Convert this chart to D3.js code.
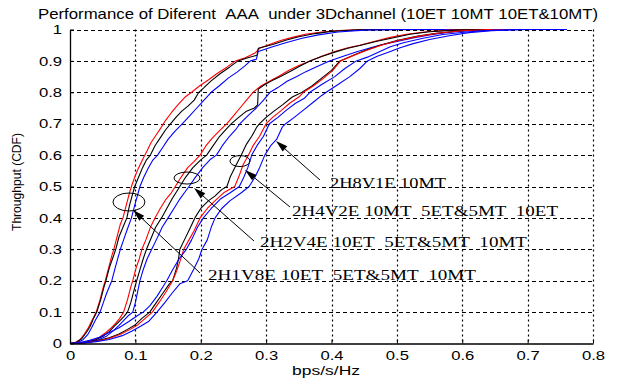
<!DOCTYPE html>
<html>
<head>
<meta charset="utf-8">
<script src="https://cdn.jsdelivr.net/npm/d3@7"></script>
<style>
  html, body { margin: 0; padding: 0; background: #fff; }
  svg { display: block; }
</style>
</head>
<body>
<svg id="chart" width="624" height="382"></svg>
<script>
// ---------- data ----------
const titleText = "Performance of Diferent  AAA  under 3Dchannel (10ET 10MT 10ET&10MT)";
const xLabelText = "bps/s/Hz";
const yLabelText = "Throughput (CDF)";

const xTicks = [0, 0.1, 0.2, 0.3, 0.4, 0.5, 0.6, 0.7, 0.8];
const xTickLabels = ["0", "0.1", "0.2", "0.3", "0.4", "0.5", "0.6", "0.7", "0.8"];
const yTicks = [0, 0.1, 0.2, 0.3, 0.4, 0.5, 0.6, 0.7, 0.8, 0.9, 1];
const yTickLabels = ["0", "0.1", "0.2", "0.3", "0.4", "0.5", "0.6", "0.7", "0.8", "0.9", "1"];

// 2H1V8E
const h1v8e_10ET = [[0,0],[0.008,0.003],[0.015,0.012],[0.022,0.03],[0.028,0.05],[0.034,0.075],[0.04,0.1],[0.046,0.14],[0.051,0.18],[0.054,0.2],[0.059,0.24],[0.064,0.28],[0.067,0.3],[0.072,0.34],[0.077,0.38],[0.081,0.4],[0.086,0.44],[0.091,0.48],[0.094,0.5],[0.099,0.53],[0.105,0.56],[0.112,0.59],[0.117,0.61],[0.124,0.64],[0.132,0.665],[0.14,0.69],[0.146,0.71],[0.155,0.735],[0.165,0.76],[0.176,0.785],[0.186,0.8],[0.198,0.82],[0.212,0.84],[0.225,0.86],[0.24,0.88],[0.253,0.9],[0.268,0.91],[0.283,0.925],[0.29,0.94],[0.305,0.952],[0.322,0.965],[0.34,0.975],[0.36,0.985],[0.385,0.992],[0.41,0.997],[0.45,1],[0.7,1]];
const h1v8e_5ET5MT = [[0,0],[0.01,0.004],[0.018,0.015],[0.025,0.035],[0.031,0.055],[0.036,0.08],[0.041,0.1],[0.047,0.14],[0.052,0.18],[0.055,0.2],[0.06,0.24],[0.065,0.27],[0.07,0.3],[0.075,0.34],[0.081,0.37],[0.087,0.4],[0.091,0.44],[0.095,0.47],[0.099,0.5],[0.105,0.53],[0.111,0.56],[0.117,0.585],[0.123,0.6],[0.13,0.63],[0.138,0.655],[0.146,0.68],[0.154,0.7],[0.162,0.72],[0.171,0.74],[0.18,0.755],[0.19,0.775],[0.197,0.8],[0.205,0.815],[0.215,0.835],[0.23,0.86],[0.244,0.88],[0.257,0.9],[0.272,0.91],[0.286,0.918],[0.288,0.94],[0.31,0.952],[0.33,0.966],[0.35,0.977],[0.375,0.987],[0.4,0.994],[0.44,0.999],[0.72,1]];
const h1v8e_10MT = [[0,0],[0.012,0.003],[0.02,0.012],[0.027,0.028],[0.033,0.05],[0.039,0.075],[0.046,0.1],[0.051,0.13],[0.056,0.16],[0.06,0.18],[0.064,0.2],[0.069,0.24],[0.073,0.27],[0.077,0.3],[0.082,0.33],[0.087,0.36],[0.094,0.4],[0.099,0.44],[0.103,0.47],[0.107,0.5],[0.113,0.53],[0.12,0.56],[0.127,0.585],[0.134,0.6],[0.142,0.625],[0.15,0.65],[0.16,0.675],[0.172,0.7],[0.183,0.725],[0.194,0.75],[0.205,0.775],[0.216,0.8],[0.228,0.82],[0.242,0.845],[0.256,0.865],[0.268,0.885],[0.276,0.9],[0.285,0.905],[0.288,0.93],[0.31,0.945],[0.33,0.958],[0.355,0.972],[0.38,0.983],[0.41,0.992],[0.45,0.998],[0.5,1],[0.76,1]];

// 2H2V4E
const h2v4e_10ET = [[0,0],[0.02,0.003],[0.035,0.01],[0.045,0.02],[0.055,0.035],[0.063,0.05],[0.07,0.065],[0.076,0.08],[0.082,0.1],[0.088,0.14],[0.093,0.18],[0.096,0.2],[0.101,0.24],[0.106,0.27],[0.11,0.3],[0.116,0.33],[0.123,0.37],[0.13,0.4],[0.138,0.43],[0.147,0.46],[0.155,0.48],[0.161,0.5],[0.17,0.53],[0.18,0.56],[0.19,0.58],[0.199,0.6],[0.208,0.63],[0.218,0.655],[0.23,0.68],[0.24,0.7],[0.25,0.725],[0.26,0.75],[0.27,0.775],[0.28,0.8],[0.292,0.82],[0.305,0.835],[0.32,0.852],[0.335,0.87],[0.35,0.885],[0.367,0.9],[0.385,0.915],[0.405,0.93],[0.425,0.942],[0.443,0.95],[0.465,0.962],[0.49,0.975],[0.515,0.985],[0.545,0.993],[0.58,0.998],[0.62,1],[0.72,1]];
const h2v4e_5ET5MT = [[0,0],[0.022,0.003],[0.038,0.01],[0.05,0.022],[0.06,0.038],[0.068,0.055],[0.075,0.07],[0.082,0.085],[0.088,0.1],[0.093,0.13],[0.098,0.17],[0.102,0.2],[0.107,0.235],[0.112,0.27],[0.117,0.3],[0.124,0.335],[0.131,0.37],[0.14,0.4],[0.148,0.43],[0.156,0.46],[0.162,0.48],[0.168,0.5],[0.177,0.53],[0.188,0.56],[0.2,0.585],[0.209,0.6],[0.219,0.63],[0.229,0.66],[0.24,0.685],[0.247,0.7],[0.258,0.72],[0.27,0.74],[0.282,0.75],[0.287,0.76],[0.288,0.81],[0.298,0.825],[0.31,0.838],[0.322,0.85],[0.338,0.868],[0.352,0.884],[0.367,0.9],[0.385,0.914],[0.405,0.928],[0.425,0.94],[0.445,0.95],[0.468,0.962],[0.495,0.974],[0.52,0.985],[0.55,0.993],[0.59,0.998],[0.63,1],[0.72,1]];
const h2v4e_10MT = [[0,0],[0.025,0.003],[0.042,0.01],[0.055,0.022],[0.066,0.04],[0.075,0.058],[0.083,0.075],[0.09,0.09],[0.096,0.1],[0.1,0.13],[0.104,0.17],[0.107,0.2],[0.112,0.235],[0.118,0.27],[0.125,0.3],[0.132,0.33],[0.141,0.37],[0.15,0.4],[0.159,0.43],[0.168,0.46],[0.175,0.48],[0.182,0.5],[0.192,0.53],[0.203,0.56],[0.214,0.585],[0.224,0.6],[0.233,0.63],[0.244,0.66],[0.253,0.68],[0.26,0.7],[0.272,0.725],[0.285,0.75],[0.296,0.775],[0.306,0.8],[0.318,0.815],[0.332,0.835],[0.347,0.85],[0.36,0.865],[0.378,0.882],[0.397,0.9],[0.418,0.915],[0.44,0.93],[0.46,0.942],[0.474,0.95],[0.5,0.962],[0.525,0.973],[0.55,0.983],[0.58,0.991],[0.615,0.997],[0.66,1],[0.76,1]];

// 2H4V2E
const h4v2e_5ET5MT = [[0,0],[0.02,0.002],[0.04,0.008],[0.06,0.018],[0.075,0.03],[0.088,0.045],[0.1,0.06],[0.11,0.08],[0.122,0.1],[0.132,0.13],[0.142,0.16],[0.152,0.19],[0.157,0.2],[0.163,0.24],[0.166,0.27],[0.168,0.3],[0.175,0.33],[0.182,0.36],[0.191,0.4],[0.2,0.43],[0.212,0.455],[0.222,0.47],[0.232,0.49],[0.24,0.5],[0.245,0.53],[0.252,0.56],[0.262,0.6],[0.27,0.635],[0.278,0.66],[0.286,0.69],[0.29,0.7],[0.3,0.72],[0.312,0.74],[0.325,0.76],[0.34,0.785],[0.355,0.8],[0.37,0.82],[0.385,0.845],[0.4,0.87],[0.413,0.9],[0.43,0.915],[0.45,0.932],[0.474,0.95],[0.5,0.965],[0.53,0.978],[0.56,0.988],[0.6,0.996],[0.65,1],[0.74,1]];
const h4v2e_10ET = [[0,0],[0.02,0.002],[0.04,0.007],[0.06,0.016],[0.078,0.03],[0.092,0.045],[0.104,0.06],[0.115,0.08],[0.126,0.1],[0.136,0.13],[0.147,0.165],[0.157,0.2],[0.163,0.23],[0.168,0.26],[0.174,0.3],[0.182,0.33],[0.19,0.36],[0.199,0.4],[0.21,0.43],[0.222,0.455],[0.235,0.48],[0.252,0.5],[0.258,0.53],[0.265,0.57],[0.273,0.6],[0.28,0.63],[0.29,0.66],[0.3,0.7],[0.31,0.72],[0.322,0.74],[0.336,0.765],[0.35,0.785],[0.357,0.8],[0.372,0.82],[0.388,0.845],[0.402,0.87],[0.414,0.9],[0.432,0.916],[0.452,0.932],[0.476,0.95],[0.502,0.965],[0.532,0.978],[0.565,0.989],[0.6,0.996],[0.64,1],[0.72,1]];
const h4v2e_10MT = [[0,0],[0.015,0.003],[0.03,0.01],[0.045,0.02],[0.06,0.035],[0.075,0.05],[0.09,0.07],[0.104,0.09],[0.112,0.1],[0.122,0.12],[0.133,0.15],[0.142,0.18],[0.148,0.2],[0.157,0.235],[0.167,0.27],[0.178,0.3],[0.186,0.33],[0.195,0.37],[0.204,0.4],[0.216,0.43],[0.23,0.46],[0.245,0.48],[0.259,0.5],[0.266,0.53],[0.272,0.56],[0.278,0.6],[0.286,0.63],[0.296,0.66],[0.305,0.7],[0.318,0.72],[0.332,0.745],[0.345,0.765],[0.358,0.78],[0.367,0.8],[0.385,0.825],[0.405,0.85],[0.42,0.875],[0.438,0.9],[0.455,0.912],[0.474,0.93],[0.49,0.945],[0.51,0.958],[0.54,0.972],[0.57,0.984],[0.61,0.993],[0.65,0.998],[0.7,1],[0.76,1]];

// 2H8V1E
const h8v1e_10MT = [[0,0],[0.02,0.002],[0.04,0.006],[0.06,0.013],[0.08,0.025],[0.095,0.04],[0.108,0.055],[0.12,0.07],[0.133,0.1],[0.145,0.13],[0.156,0.16],[0.168,0.19],[0.18,0.2],[0.19,0.24],[0.197,0.27],[0.202,0.3],[0.21,0.33],[0.216,0.37],[0.222,0.4],[0.232,0.43],[0.245,0.455],[0.262,0.48],[0.274,0.5],[0.283,0.53],[0.29,0.56],[0.298,0.6],[0.307,0.63],[0.316,0.65],[0.325,0.69],[0.33,0.7],[0.343,0.72],[0.358,0.745],[0.373,0.77],[0.385,0.79],[0.392,0.8],[0.41,0.825],[0.428,0.85],[0.443,0.875],[0.455,0.9],[0.47,0.915],[0.49,0.93],[0.505,0.942],[0.525,0.955],[0.55,0.968],[0.58,0.98],[0.61,0.99],[0.645,0.996],[0.69,1],[0.76,1]];

const seriesNames = ["h1v8e_10ET","h1v8e_5ET5MT","h1v8e_10MT","h2v4e_10ET","h2v4e_5ET5MT","h2v4e_10MT","h4v2e_5ET5MT","h4v2e_10ET","h4v2e_10MT","h8v1e_10MT"];
const seriesData = [h1v8e_10ET,h1v8e_5ET5MT,h1v8e_10MT,h2v4e_10ET,h2v4e_5ET5MT,h2v4e_10MT,h4v2e_5ET5MT,h4v2e_10ET,h4v2e_10MT,h8v1e_10MT];
const seriesColors = ["#ff0000","#000000","#0000ff","#ff0000","#000000","#0000ff","#000000","#ff0000","#0000ff","#0000ff"];

// annotations (data coordinates)
const annotLabels = ["2H8V1E 10MT", "2H4V2E 10MT  5ET&5MT  10ET", "2H2V4E 10ET  5ET&5MT  10MT", "2H1V8E 10ET  5ET&5MT  10MT"];
const annotLabelPos = [[0.3977, 0.4952], [0.3396, 0.4061], [0.2906, 0.3073], [0.2111, 0.2022]];
const annotLabelWidth = [116, 266, 267, 268];
const arrowTail = [[0.3824, 0.5207], [0.3365, 0.4347], [0.2815, 0.3264], [0.1989, 0.2245]];
const arrowTip  = [[0.3151, 0.6449], [0.2677, 0.5525], [0.1897, 0.4952], [0.0964, 0.4252]];
const ellipseCenters = [[0.26, 0.581], [0.179, 0.527], [0.0902, 0.4506]];
const ellipseRadii = [[10, 5.5], [13, 6], [16, 9]];

// ---------- drawing ----------
const svg = d3.select("#chart");
const x = d3.scaleLinear().domain([0, 0.8]).range([70, 593]);
const y = d3.scaleLinear().domain([0, 1]).range([343.5, 29.5]);
const sansFont = "Arial, 'Liberation Sans', sans-serif";
const serifFont = "'Times New Roman', 'Liberation Serif', serif";
const keepSpaces = s => s.replace(/ /g, "\u00a0");

svg.append("rect").attr("width", 624).attr("height", 382).attr("fill", "#fff");

// grid
const grid = svg.append("g");
grid.selectAll("line.h").data(yTicks.filter(d => d > 0)).join("line")
  .attr("x1", x(0)).attr("x2", x(0.8))
  .attr("y1", d => Math.round(y(d)) + 0.5).attr("y2", d => Math.round(y(d)) + 0.5)
  .attr("stroke", "#000").attr("stroke-width", 1).attr("stroke-dasharray", "4,3");
grid.selectAll("line.v").data(xTicks.filter(d => d > 0)).join("line")
  .attr("x1", d => Math.round(x(d)) + 0.5).attr("x2", d => Math.round(x(d)) + 0.5)
  .attr("y1", y(1)).attr("y2", y(0))
  .attr("stroke", "#000").attr("stroke-width", 1.2).attr("stroke-dasharray", "2,3");

// curves
const line = d3.line().x(d => x(d[0])).y(d => y(d[1]));
svg.append("g").selectAll("path").data(seriesData).join("path")
  .attr("d", line)
  .attr("fill", "none")
  .attr("stroke", (d, i) => seriesColors[i])
  .attr("stroke-width", 1.1)
  .attr("stroke-linejoin", "round");

// axes
const stretch = 1.28;
const xAxis = svg.append("g").attr("transform", `translate(0,${y(0)})`)
  .call(d3.axisBottom(x).tickValues(xTicks).tickFormat((d, i) => xTickLabels[i]).tickSizeInner(-4).tickSizeOuter(0).tickPadding(7));
const yAxis = svg.append("g").attr("transform", `translate(${x(0)},0)`)
  .call(d3.axisLeft(y).tickValues(yTicks).tickFormat((d, i) => yTickLabels[i]).tickSizeInner(-4).tickSizeOuter(0).tickPadding(8));
[xAxis, yAxis].forEach(g => {
  g.select(".domain").attr("stroke", "#000").attr("stroke-width", 1.3);
  g.selectAll(".tick line").attr("stroke", "#000");
  g.selectAll(".tick text").attr("font-family", sansFont).attr("font-size", 13).attr("fill", "#000")
    .each(function() {
      const w = this.getComputedTextLength();
      d3.select(this).attr("textLength", w * stretch).attr("lengthAdjust", "spacingAndGlyphs");
    });
});

// title
svg.append("text").attr("x", 38).attr("y", 19)
  .attr("font-family", sansFont).attr("font-size", 15).attr("fill", "#000")
  .attr("textLength", 560).attr("lengthAdjust", "spacingAndGlyphs")
  .text(keepSpaces(titleText));

// axis labels
svg.append("text").attr("x", 326).attr("y", 375).attr("text-anchor", "middle")
  .attr("font-family", sansFont).attr("font-size", 12).attr("fill", "#000")
  .attr("textLength", 68).attr("lengthAdjust", "spacingAndGlyphs")
  .text(xLabelText);
svg.append("text").attr("transform", "translate(21,182) rotate(-90)").attr("text-anchor", "middle")
  .attr("font-family", sansFont).attr("font-size", 12).attr("fill", "#000")
  .attr("textLength", 98).attr("lengthAdjust", "spacingAndGlyphs")
  .text(yLabelText);

// annotations
const ann = svg.append("g");
ann.selectAll("ellipse").data(ellipseCenters).join("ellipse")
  .attr("cx", d => x(d[0])).attr("cy", d => y(d[1]))
  .attr("rx", (d, i) => ellipseRadii[i][0]).attr("ry", (d, i) => ellipseRadii[i][1])
  .attr("fill", "none").attr("stroke", "#000").attr("stroke-width", 1);

arrowTail.forEach((t, i) => {
  const x1 = x(t[0]), y1 = y(t[1]);
  const x2 = x(arrowTip[i][0]), y2 = y(arrowTip[i][1]);
  const ang = Math.atan2(y2 - y1, x2 - x1);
  const len = 12, half = 3.5;
  const bx = x2 - len * Math.cos(ang), by = y2 - len * Math.sin(ang);
  ann.append("line").attr("x1", x1).attr("y1", y1).attr("x2", bx).attr("y2", by)
    .attr("stroke", "#000").attr("stroke-width", 1);
  const p1 = [bx + half * Math.sin(ang), by - half * Math.cos(ang)];
  const p2 = [bx - half * Math.sin(ang), by + half * Math.cos(ang)];
  ann.append("path").attr("d", `M${x2},${y2}L${p1[0]},${p1[1]}L${p2[0]},${p2[1]}Z`).attr("fill", "#000");
});

ann.selectAll("text").data(annotLabels).join("text")
  .attr("x", (d, i) => x(annotLabelPos[i][0])).attr("y", (d, i) => y(annotLabelPos[i][1]))
  .attr("font-family", serifFont).attr("font-size", 14).attr("fill", "#000")
  .attr("textLength", (d, i) => annotLabelWidth[i]).attr("lengthAdjust", "spacingAndGlyphs")
  .text(d => keepSpaces(d));
</script>
</body>
</html>
